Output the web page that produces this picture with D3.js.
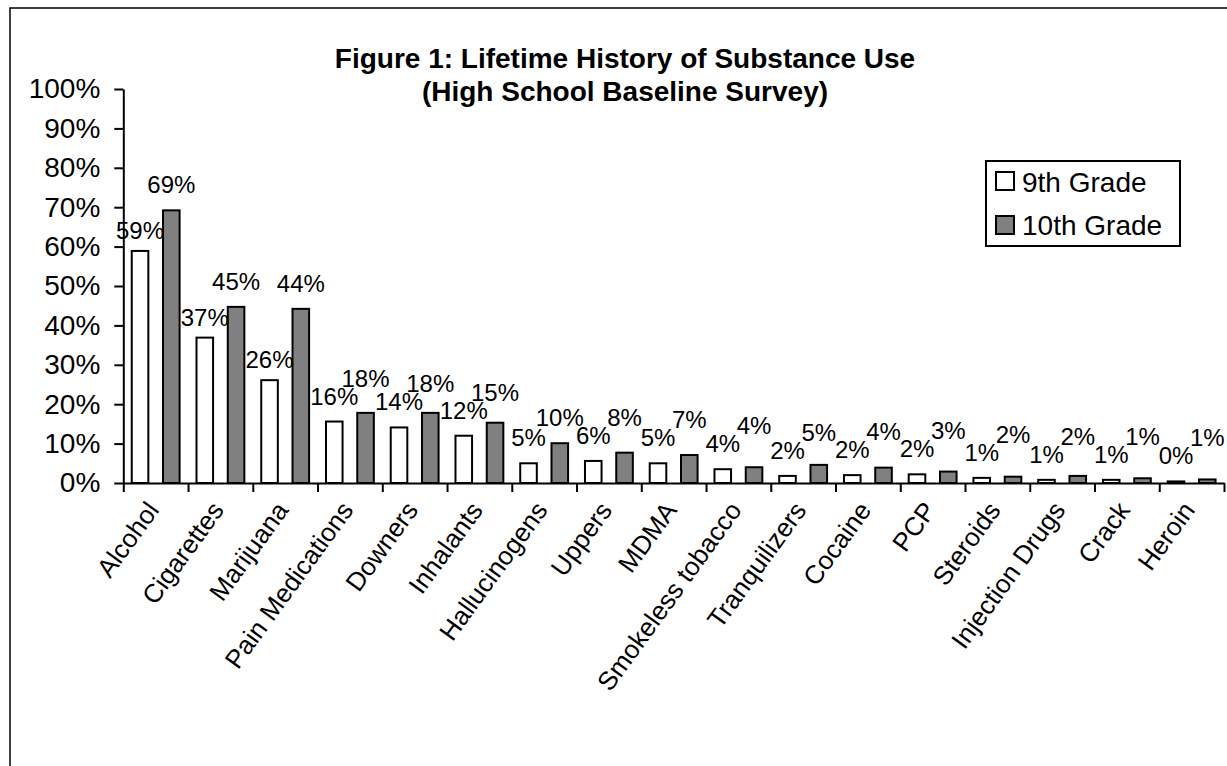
<!DOCTYPE html>
<html>
<head>
<meta charset="utf-8">
<script src="https://cdn.jsdelivr.net/npm/d3@7"></script>
<style>
  body { margin: 0; background: #fff; }
  svg text { font-family: Arial, "Liberation Sans", sans-serif; fill: #000; }
</style>
</head>
<body>
<div class="chart_area"></div>
<script>
// data (percent)
var categories = ["Alcohol", "Cigarettes", "Marijuana", "Pain Medications", "Downers", "Inhalants",
  "Hallucinogens", "Uppers", "MDMA", "Smokeless tobacco", "Tranquilizers", "Cocaine", "PCP",
  "Steroids", "Injection Drugs", "Crack", "Heroin"];
var grade9 = [58.9, 36.9, 26.1, 15.6, 14.1, 12.0, 5.0, 5.6, 5.0, 3.5, 1.8, 2.0, 2.2, 1.3, 0.8, 0.8, 0.4];
var grade10 = [69.2, 44.7, 44.2, 17.8, 17.8, 15.3, 10.1, 7.7, 7.1, 4.0, 4.6, 3.9, 2.9, 1.6, 1.8, 1.2, 0.9];
var seriesNames = ["9th Grade", "10th Grade"];
var yTicks = [0, 10, 20, 30, 40, 50, 60, 70, 80, 90, 100];

var width = 1227, height = 766;
var plot = { left: 123.3, right: 1224, top: 89, bottom: 483 };

var svg = d3.select(".chart_area").append("svg")
  .attr("width", width)
  .attr("height", height);

// outer chart border (runs off the right and bottom edge)
svg.append("rect")
  .attr("x", 10).attr("y", 8)
  .attr("width", 1240).attr("height", 780)
  .attr("fill", "none")
  .attr("stroke", "#000")
  .attr("stroke-width", 1.5);

// title
var title = svg.append("text")
  .attr("text-anchor", "middle")
  .style("font-weight", "bold")
  .style("font-size", "28px");
title.append("tspan").attr("x", 625).attr("y", 68).text("Figure 1: Lifetime History of Substance Use");
title.append("tspan").attr("x", 625).attr("y", 101).text("(High School Baseline Survey)");

var x = d3.scaleBand()
  .domain(categories)
  .range([plot.left, plot.right])
  .padding(0);

var xSub = d3.scaleBand()
  .domain(seriesNames)
  .range([0, x.bandwidth()])
  .paddingInner(0.47)
  .paddingOuter(0.27);

var y = d3.scaleLinear()
  .domain([0, 100])
  .range([plot.bottom, plot.top]);

var rows = categories.map(function (c, i) {
  return { cat: c, values: [grade9[i], grade10[i]] };
});

// bars
var groups = svg.append("g").selectAll("g")
  .data(rows)
  .enter().append("g")
  .attr("transform", function (d) { return "translate(" + x(d.cat) + ",0)"; });

groups.selectAll("rect")
  .data(function (d) { return d.values.map(function (v, k) { return { key: seriesNames[k], v: v }; }); })
  .enter().append("rect")
  .attr("x", function (d) { return xSub(d.key); })
  .attr("width", xSub.bandwidth())
  .attr("y", function (d) { return y(d.v); })
  .attr("height", function (d) { return y(0) - y(d.v); })
  .attr("fill", function (d) { return d.key == "9th Grade" ? "#ffffff" : "#808080"; })
  .attr("stroke", "#000")
  .attr("stroke-width", 2);

// value labels, 10th grade label pushed up above the 9th grade one when they would collide
var fmt = function (v) { return Math.round(v) + "%"; };
groups.each(function (d) {
  var g = d3.select(this);
  var y9 = y(d.values[0]) - (d.values[0] > 20 ? 12 : 17);
  var y10 = Math.min(y(d.values[1]) - 17, y9 - 18);
  [y9, y10].forEach(function (yy, k) {
    g.append("text")
      .attr("x", xSub(seriesNames[k]) + xSub.bandwidth() / 2)
      .attr("y", yy)
      .attr("text-anchor", "middle")
      .style("font-size", "24px")
      .text(fmt(d.values[k]));
  });
});

// y axis
var yAxis = svg.append("g")
  .attr("transform", "translate(" + plot.left + ",0)")
  .call(d3.axisLeft(y).tickValues(yTicks).tickSize(9).tickSizeOuter(0).tickPadding(14)
    .tickFormat(function (d) { return d + "%"; }));
yAxis.selectAll("text").style("font-size", "28px").style("font-family", "Arial, 'Liberation Sans', sans-serif");
yAxis.selectAll("line, path").attr("stroke", "#000").attr("stroke-width", 2);

// x axis, ticks between categories
var xEdges = d3.scaleLinear().domain([0, categories.length]).range([plot.left, plot.right]);
var xAxis = svg.append("g")
  .attr("transform", "translate(0," + plot.bottom + ")")
  .call(d3.axisBottom(xEdges).tickValues(d3.range(0, categories.length + 1)).tickSize(9).tickSizeOuter(0)
    .tickFormat(""));
xAxis.selectAll("line, path").attr("stroke", "#000").attr("stroke-width", 2);

svg.append("g").selectAll("text")
  .data(categories)
  .enter().append("text")
  .attr("transform", function (d) {
    return "translate(" + (x(d) + x.bandwidth() / 2 - 3) + "," + (plot.bottom + 22) + ") rotate(-54)";
  })
  .attr("text-anchor", "end")
  .attr("dy", "0.35em")
  .style("font-size", "26px")
  .text(function (d) { return d; });

// legend
var legend = svg.append("g");
legend.append("rect")
  .attr("x", 986).attr("y", 161)
  .attr("width", 194).attr("height", 85)
  .attr("fill", "#fff")
  .attr("stroke", "#000")
  .attr("stroke-width", 2);
seriesNames.forEach(function (name, k) {
  legend.append("rect")
    .attr("x", 996).attr("y", 172 + k * 44)
    .attr("width", 18).attr("height", 18)
    .attr("fill", k == 0 ? "#ffffff" : "#808080")
    .attr("stroke", "#000")
    .attr("stroke-width", 2);
  legend.append("text")
    .attr("x", 1022).attr("y", 192 + k * 43)
    .style("font-size", "28px")
    .text(name);
});
</script>
</body>
</html>
